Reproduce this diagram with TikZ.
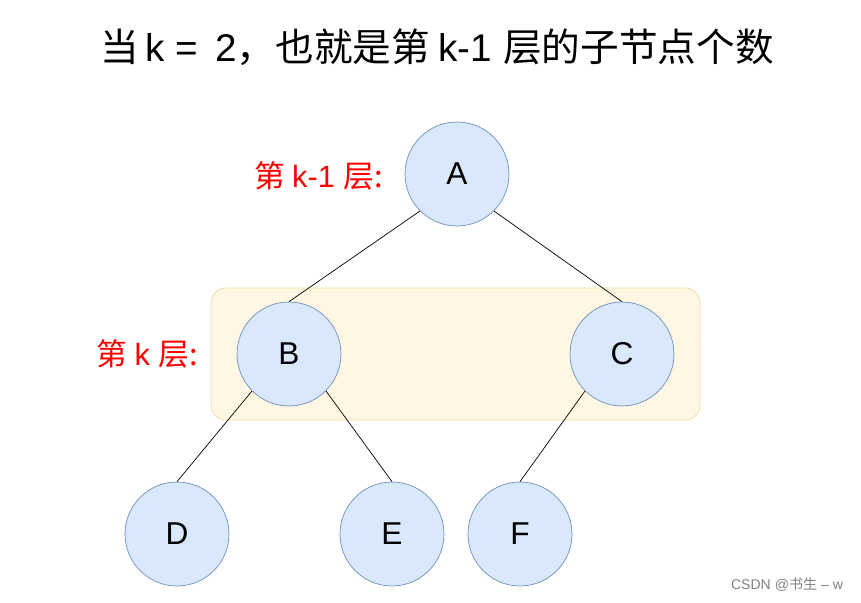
\documentclass[tikz,border=0pt]{standalone}
\usepackage{fontspec}
\setmainfont{Liberation Sans}
\newfontfamily\cjk{Noto Sans CJK SC}
\usetikzlibrary{positioning}
\definecolor{nodefill}{HTML}{DAE8FC}
\definecolor{nodeline}{HTML}{6C8EBF}
\definecolor{boxfill}{HTML}{FFF7E3}
\definecolor{boxline}{HTML}{EDD9A0}
\begin{document}
\begin{tikzpicture}[x=0.02cm, y=-0.02cm,
		treenode/.style = {circle, draw = nodeline, fill = nodefill, minimum size = 2.08cm, inner sep = 0pt, font = \fontsize{18}{20}\selectfont},
		level/.style = {text = red, anchor = east, font = \fontsize{17.5}{20}\selectfont},
	]
	\useasboundingbox (0,0) rectangle (861,602);
	\draw[boxline, fill = boxfill, rounded corners = 0.3cm] (211,288) rectangle (700,420);

	\node(title) at (437,47){\fontsize{22}{26}\selectfont\cjk 当\,\rmfamily k =\, 2\cjk ，也就是第 \rmfamily k-1 \cjk 层的子节点个数};
	\node[level](lvA) at (389,176){\cjk 第 \rmfamily k-1 \cjk 层:};
	\node[level](lvB) at (204,354){\cjk 第 \rmfamily k \cjk 层:};

	\node[treenode](A) at (457,174){A};
	\node[treenode](B) at (289,354){B};
	\node[treenode](C) at (622,354){C};
	\node[treenode](D) at (177,534){D};
	\node[treenode](E) at (392,534){E};
	\node[treenode](F) at (520,534){F};

	\draw(A.-135)--(B.north);
	\draw(A.-45)--(C.north);
	\draw(B.-135)--(D.north);
	\draw(B.-45)--(E.north);
	\draw(C.-135)--(F.north);

	\node[gray, font = \fontsize{8}{10}\selectfont](mark) at (787,585){CSDN @\cjk 书生\rmfamily\ – w};
\end{tikzpicture}
\end{document}
